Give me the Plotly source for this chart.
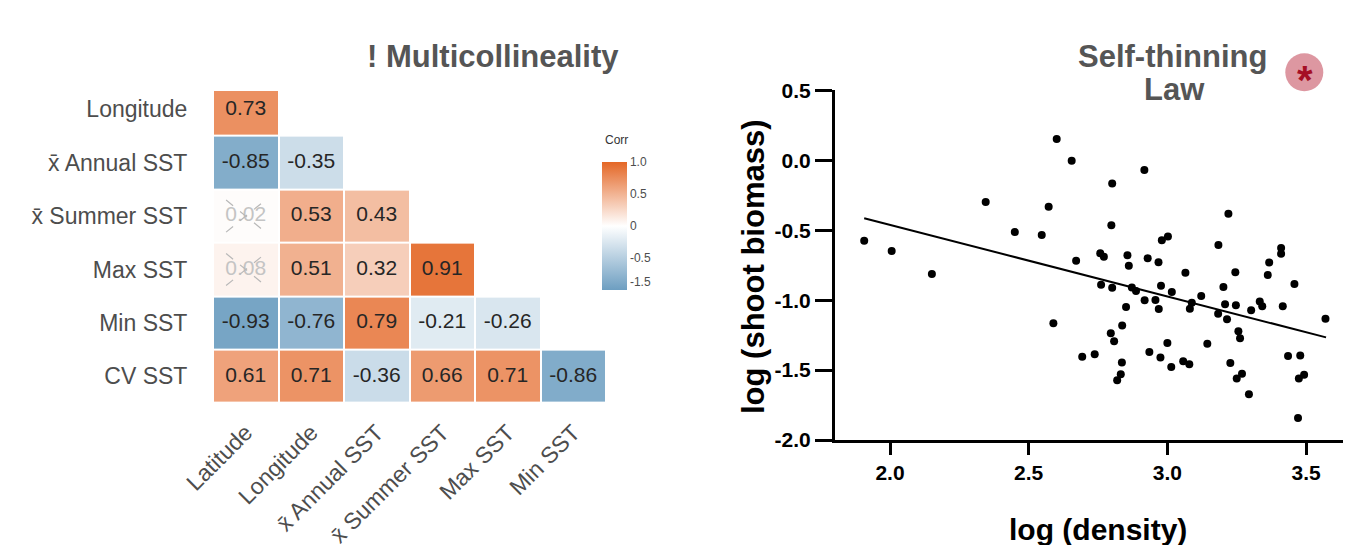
import plotly.graph_objects as go

# page has an 8px body margin, so the figure is sized to fill the remaining window
OFF = 8
W, H = 1351 - OFF, 545 - OFF

# ---------------- data: correlation matrix ----------------
row_labels = ["Longitude", "x\u0304 Annual SST", "x\u0304 Summer SST", "Max SST", "Min SST", "CV SST"]
col_labels = ["Latitude", "Longitude", "x\u0304 Annual SST", "x\u0304 Summer SST", "Max SST", "Min SST"]
corr_longitude = [0.73]
corr_annual = [-0.85, -0.35]
corr_summer = [0.02, 0.53, 0.43]
corr_max = [0.08, 0.51, 0.32, 0.91]
corr_min = [-0.93, -0.76, 0.79, -0.21, -0.26]
corr_cv = [0.61, 0.71, -0.36, 0.66, 0.71, -0.86]
not_significant = [("x\u0304 Summer SST", "Latitude"), ("Max SST", "Latitude")]
cbar_tickvals = [1.0, 0.5, 0.0, -0.5, -0.875]
cbar_ticktext = ["1.0", "0.5", "0", "-0.5", "-1.5"]

# ---------------- data: self-thinning scatter ----------------
log_density = [1.907, 2.006, 2.151, 2.345, 2.450, 2.547, 2.572, 2.601, 2.589, 2.655,
               2.671, 2.693, 2.738, 2.758, 2.771, 2.761, 2.796, 2.798, 2.801, 2.801,
               2.808, 2.819, 2.832, 2.836, 2.837, 2.851, 2.856, 2.861, 2.872, 2.887,
               2.917, 2.918, 2.929, 2.935, 2.957, 2.968, 2.969, 2.975, 2.977, 2.980,
               3.000, 3.002, 3.014, 3.016, 3.057, 3.065, 3.079, 3.081, 3.088, 3.122,
               3.144, 3.183, 3.184, 3.202, 3.208, 3.215, 3.220, 3.227, 3.245, 3.247,
               3.250, 3.256, 3.262, 3.269, 3.294, 3.302, 3.333, 3.342, 3.362, 3.367,
               3.410, 3.410, 3.416, 3.435, 3.458, 3.471, 3.474, 3.479, 3.493, 3.570]
log_biomass = [-0.575, -0.649, -0.813, -0.298, -0.513, -0.534, -0.332, 0.152, -1.166, -0.003,
               -0.718, -1.405, -1.386, -0.665, -0.690, -0.890, -1.237, -0.465, -0.165, -0.911,
               -1.293, -1.572, -1.529, -1.445, -1.182, -1.049, -0.678, -0.754, -0.909, -0.935,
               -0.069, -1.001, -0.701, -1.371, -0.999, -0.729, -1.064, -1.410, -0.897, -0.572,
               -1.307, -0.544, -1.478, -0.942, -1.436, -0.804, -1.459, -1.061, -1.019, -0.970,
               -1.312, -1.097, -0.606, -0.906, -1.030, -1.137, -0.382, -1.450, -0.801, -1.037,
               -1.560, -1.223, -1.273, -1.526, -1.672, -1.073, -1.009, -1.043, -0.820, -0.730,
               -0.627, -0.668, -1.043, -1.400, -0.885, -1.843, -1.560, -1.395, -1.534, -1.133]
fit_x = [1.907, 3.572]
fit_y = [-0.414, -1.266]
x_ticks = [2.0, 2.5, 3.0, 3.5]
y_ticks = [-2.0, -1.5, -1.0, -0.5, 0.0, 0.5]


def px(x):
    return (x - OFF) / W


def py(y):
    return 1 - (y - OFF) / H


rows = [corr_longitude, corr_annual, corr_summer, corr_max, corr_min, corr_cv]
n = len(row_labels)
z = []
ys = list(range(n - 1, -1, -1))  # top row highest
for vals in rows:
    z.append(vals + [None] * (len(col_labels) - len(vals)))

fig = go.Figure()

fig.add_trace(go.Heatmap(
    z=z, x=list(range(len(col_labels))), y=ys,
    zmin=-1, zmax=1,
    colorscale=[[0, "#6D9EC1"], [0.5, "#FFFFFF"], [1, "#E46726"]],
    xgap=2, ygap=2, hoverongaps=False,
    xaxis="x", yaxis="y",
    colorbar=dict(
        x=px(601.7), xanchor="left", y=py(226), yanchor="middle",
        thickness=25, thicknessmode="pixels", len=128, lenmode="pixels",
        outlinewidth=0, tickvals=cbar_tickvals, ticktext=cbar_ticktext,
        ticks="", tickfont=dict(family="Liberation Sans, Arial", size=12, color="#4D4D4D"),
        xpad=0, ypad=0,
    ),
))

# cell labels
tx, ty, tt, tc = [], [], [], []
ns_set = set(not_significant)
for i, vals in enumerate(rows):
    for j, v in enumerate(vals):
        tx.append(j)
        ty.append(ys[i])
        tt.append(f"{v:.2f}")
        tc.append("#C4C4C4" if (row_labels[i], col_labels[j]) in ns_set else "#262626")
fig.add_trace(go.Scatter(
    x=tx, y=ty, text=tt, mode="text",
    textfont=dict(family="Liberation Sans, Arial", size=21, color=tc),
    xaxis="x", yaxis="y", showlegend=False, hoverinfo="skip",
))

# crosses on non-significant cells
cx, cy = [], []
for r, c in not_significant:
    j = col_labels.index(c)
    yc = ys[row_labels.index(r)]
    cx += [j - 0.3, j + 0.3, None, j - 0.3, j + 0.3, None]
    cy += [yc + 0.3, yc - 0.3, None, yc - 0.3, yc + 0.3, None]
fig.add_trace(go.Scatter(
    x=cx, y=cy, mode="lines", line=dict(color="#B8B8B8", width=1.2, dash="dash"),
    xaxis="x", yaxis="y", showlegend=False, hoverinfo="skip",
))

# scatter panel
fig.add_trace(go.Scatter(
    x=log_density, y=log_biomass, mode="markers",
    marker=dict(color="black", size=8),
    xaxis="x2", yaxis="y2", showlegend=False,
))
fig.add_trace(go.Scatter(
    x=fit_x, y=fit_y, mode="lines", line=dict(color="black", width=2),
    xaxis="x2", yaxis="y2", showlegend=False,
))

label_font = dict(family="Liberation Sans, Arial", size=23, color="#4D4D4D")
bold_tick = dict(family="Liberation Sans, Arial", size=21, color="black", weight="bold")

fig.update_layout(
    width=W, height=H,
    margin=dict(l=0, r=0, t=0, b=0),
    paper_bgcolor="white", plot_bgcolor="white",
    showlegend=False,
    xaxis=dict(
        domain=[px(213), px(606)], range=[-0.5, 5.5], anchor="y", automargin=False,
        tickvals=list(range(len(col_labels))), ticktext=col_labels,
        tickangle=-45, tickfont=label_font,
        showgrid=False, zeroline=False, showline=False,
        ticks="outside", ticklen=6, tickcolor="rgba(0,0,0,0)",
    ),
    yaxis=dict(
        domain=[py(403), py(91)], range=[-0.5, 5.343], anchor="x", automargin=False,
        tickvals=ys, ticktext=row_labels, tickfont=label_font,
        showgrid=False, zeroline=False, showline=False,
        ticks="outside", ticklen=20, tickcolor="rgba(0,0,0,0)",
    ),
    xaxis2=dict(
        domain=[px(835), 1.0], range=[1.8017, 3.662], anchor="y2", automargin=False,
        tickvals=x_ticks, ticktext=[f"{v:.1f}" for v in x_ticks],
        tickfont=bold_tick, showgrid=False, zeroline=False,
        showline=True, linewidth=3, linecolor="black",
        ticks="outside", ticklen=12, tickwidth=3, tickcolor="black",
        ticklabelstandoff=0,
    ),
    yaxis2=dict(
        domain=[py(440), py(90.4)], range=[-2.0, 0.5], anchor="x2", automargin=False,
        tickvals=y_ticks, ticktext=[f"{v:.1f}" for v in y_ticks],
        tickfont=bold_tick, showgrid=False, zeroline=False,
        showline=True, linewidth=3, linecolor="black",
        ticks="outside", ticklen=17, tickwidth=3, tickcolor="black",
    ),
)

title_color = "#555555"
ann = [
    dict(text="! Multicollineality", x=px(493), y=py(57), xanchor="center", yanchor="middle",
         font=dict(family="Liberation Sans, Arial", size=31, color=title_color, weight="bold")),
    dict(text="Self-thinning", x=px(1172), y=py(56), xanchor="center", yanchor="middle",
         font=dict(family="Liberation Sans, Arial", size=31, color=title_color, weight="bold")),
    dict(text="Law", x=px(1174), y=py(89), xanchor="center", yanchor="middle",
         font=dict(family="Liberation Sans, Arial", size=31, color=title_color, weight="bold")),
    dict(text="Corr", x=px(603), y=py(140), xanchor="left", yanchor="middle",
         font=dict(family="Liberation Sans, Arial", size=12, color="#333333")),
    dict(text="log (density)", x=px(1098), y=py(529), xanchor="center", yanchor="middle",
         font=dict(family="Liberation Sans, Arial", size=30, color="black", weight="bold")),
    dict(text="log (shoot biomass)", x=px(753), y=py(267), xanchor="center", yanchor="middle",
         textangle=-90,
         font=dict(family="Liberation Sans, Arial", size=31, color="black", weight="bold")),
    dict(text="*", x=px(1304.5), y=py(80), xanchor="center", yanchor="middle",
         font=dict(family="Liberation Sans, Arial", size=40, color="#A50F25", weight="bold")),
]
for a in ann:
    a.update(xref="paper", yref="paper", showarrow=False)
fig.update_layout(annotations=ann)

fig.add_shape(type="circle", xref="paper", yref="paper",
              x0=px(1285.3), x1=px(1323.3), y0=py(91.3), y1=py(53.3),
              fillcolor="#DD97A1", line=dict(width=0), layer="below")

fig.write_html("out.html")
